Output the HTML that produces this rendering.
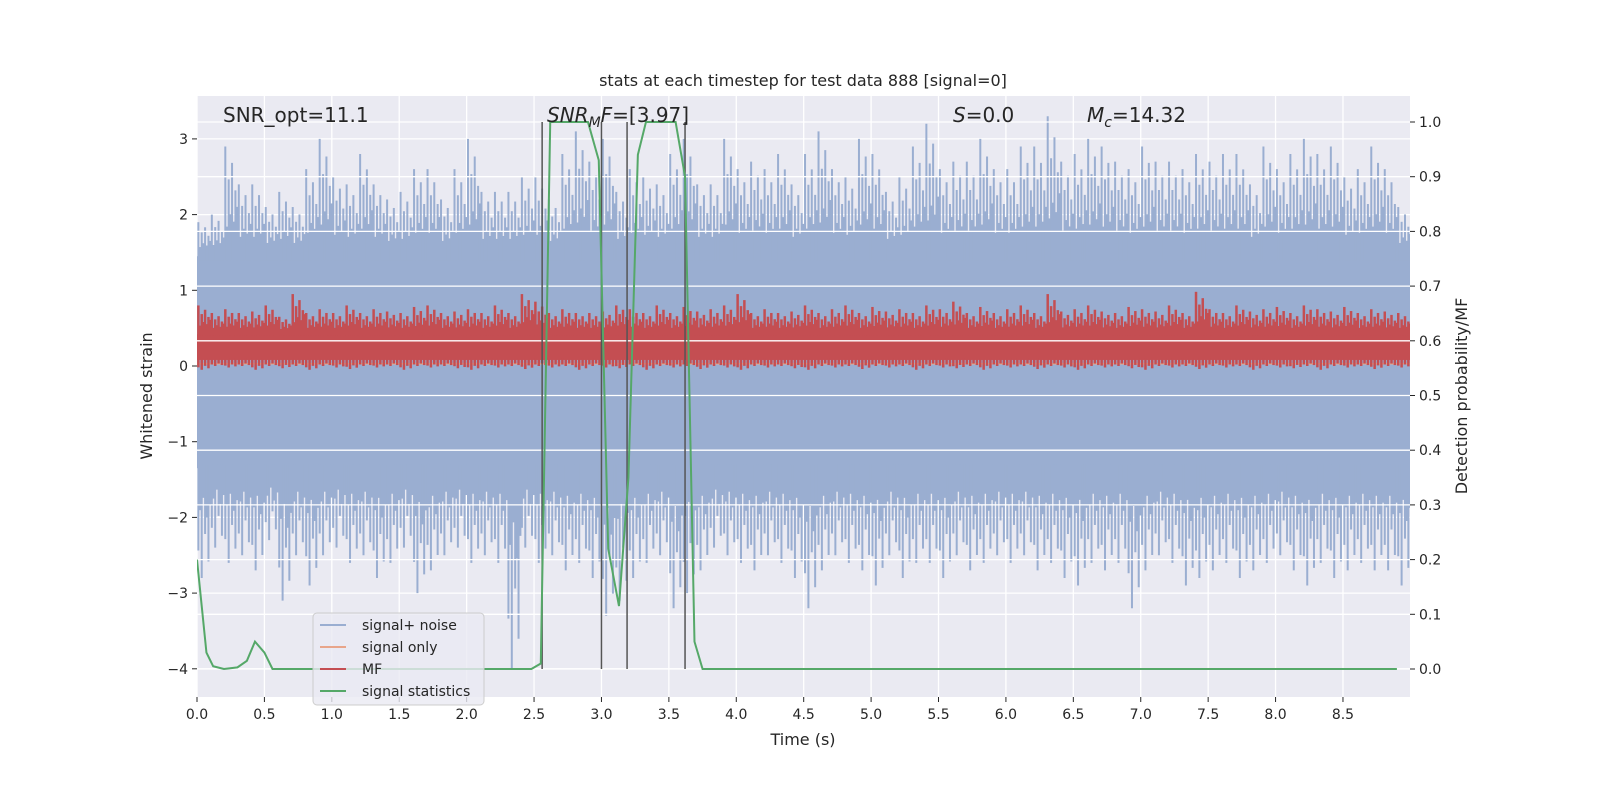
<!DOCTYPE html>
<html><head><meta charset="utf-8"><style>
html,body{margin:0;padding:0;background:#fff;overflow:hidden;width:100%;height:100%}
svg{display:block;position:fixed;left:0;top:0;width:100vw;height:100vh}
svg text{font-family:"DejaVu Sans","Liberation Sans",sans-serif;fill:#262626}
</style></head><body>
<svg id="c" viewBox="0 0 1600 800" preserveAspectRatio="none" xmlns="http://www.w3.org/2000/svg"></svg>
<script>
const xTicks=[0,0.5,1,1.5,2,2.5,3,3.5,4,4.5,5,5.5,6,6.5,7,7.5,8,8.5];
const yTicks=[-4,-3,-2,-1,0,1,2,3];
const y2Ticks=[0,0.1,0.2,0.3,0.4,0.5,0.6,0.7,0.8,0.9,1.0];
const noiseUpper=[1.9,2.0,2.9,2.4,2.4,2.1,2.3,2.1,2.6,3.0,2.5,2.4,2.8,2.4,2.2,2.3,2.6,2.6,2.2,2.6,3.0,2.3,2.3,2.3,2.5,2.5,2.2,2.8,3.1,2.7,3.0,2.3,2.6,2.5,2.4,2.8,3.0,2.4,2.4,3.0,2.6,2.7,2.6,2.8,2.4,2.8,3.1,2.6,2.5,3.0,2.8,2.3,2.5,2.9,3.2,2.6,2.7,2.7,3.0,2.6,2.6,2.9,2.9,3.3,2.7,2.8,3.0,2.9,2.7,2.6,2.9,2.7,2.7,2.6,2.8,2.7,2.8,2.8,2.4,2.9,2.6,2.8,3.0,2.8,2.9,2.5,2.6,2.9,2.6,2.1];
const noiseLower=[-2.8,-2.4,-2.6,-2.5,-2.7,-2.3,-3.1,-2.5,-2.9,-2.5,-2.4,-2.6,-2.5,-2.8,-2.6,-2.4,-3.0,-2.7,-2.5,-2.4,-2.6,-2.5,-2.6,-4.0,-2.4,-2.6,-2.5,-2.7,-2.6,-2.8,-3.3,-3.1,-2.8,-2.6,-2.5,-3.2,-3.0,-2.7,-2.4,-2.5,-2.6,-2.7,-2.5,-2.6,-2.8,-3.2,-2.7,-2.5,-2.6,-2.7,-2.9,-2.5,-2.8,-2.6,-2.6,-2.8,-2.5,-2.7,-2.6,-2.5,-2.6,-2.5,-2.7,-2.6,-2.8,-2.9,-2.6,-2.7,-2.6,-3.2,-2.7,-2.5,-2.6,-2.9,-2.8,-2.7,-2.6,-2.8,-2.7,-2.6,-2.5,-2.7,-2.9,-2.6,-2.8,-2.7,-2.6,-2.7,-2.7,-2.9];
const mfUpper=[0.8,0.7,0.75,0.7,0.72,0.8,0.65,0.95,0.7,0.75,0.7,0.8,0.7,0.75,0.72,0.7,0.78,0.8,0.7,0.72,0.75,0.7,0.8,0.7,0.95,0.85,0.7,0.75,0.7,0.7,0.72,0.8,0.75,0.7,0.8,0.7,0.78,0.72,0.75,0.8,0.95,0.7,0.75,0.7,0.72,0.8,0.7,0.75,0.8,0.7,0.78,0.72,0.75,0.7,0.8,0.75,0.85,0.7,0.78,0.7,0.75,0.8,0.7,0.95,0.72,0.75,0.8,0.72,0.7,0.78,0.75,0.72,0.8,0.7,0.98,0.75,0.7,0.8,0.72,0.75,0.78,0.7,0.8,0.75,0.72,0.78,0.7,0.75,0.72,0.7];
const mfLower=[-0.05,0.0,-0.02,0.0,-0.05,0.0,-0.03,0.0,-0.05,0.0,-0.02,-0.04,0.0,-0.02,0.0,-0.05,0.0,-0.02,0.0,-0.03,-0.05,0.0,-0.02,0.0,-0.04,0.0,-0.02,0.0,-0.05,0.0,-0.02,-0.03,0.0,-0.05,0.0,-0.02,0.0,-0.04,0.0,-0.02,-0.05,0.0,-0.02,0.0,-0.03,-0.05,0.0,-0.02,0.0,-0.04,0.0,-0.02,0.0,-0.05,0.0,-0.02,-0.03,0.0,-0.05,0.0,-0.02,0.0,-0.04,0.0,-0.02,-0.05,0.0,-0.02,0.0,-0.03,-0.05,0.0,-0.02,0.0,-0.04,0.0,-0.02,0.0,-0.05,0.0,-0.02,-0.03,0.0,-0.05,0.0,-0.02,0.0,-0.04,0.0,-0.02];
const statT=[0,0.07,0.12,0.2,0.3,0.37,0.43,0.5,0.56,1.0,2.0,2.48,2.55,2.62,2.9,2.98,3.05,3.13,3.2,3.27,3.33,3.55,3.62,3.69,3.75,5,7,8.9];
const statP=[0.2,0.03,0.005,0,0.003,0.015,0.05,0.03,0,0,0,0,0.01,1.0,1.0,0.93,0.22,0.115,0.35,0.94,1.0,1.0,0.9,0.05,0,0,0,0];
const markT=[2.56,3.0,3.19,3.62];

const NS="http://www.w3.org/2000/svg", svg=document.getElementById('c');
const L=197,R=1410,T=96,B=697;
const X=t=>L+t*134.82, Y=v=>366-v*75.7, Y2=p=>669-p*547;
function el(tag,a,parent){const e=document.createElementNS(NS,tag);for(const k in a)e.setAttribute(k,a[k]);(parent||svg).appendChild(e);return e;}
el('rect',{x:0,y:0,width:1600,height:800,fill:'#fff'});
const bg=el('rect',{x:L,y:T,width:R-L,height:B-T,fill:'#eaeaf2'});


const clip=el('clipPath',{id:'cp'});el('rect',{x:L,y:T,width:R-L,height:B-T},clip);
const g=el('g',{'clip-path':'url(#cp)'});
xTicks.forEach(t=>{el('line',{x1:X(t),x2:X(t),y1:T,y2:B,stroke:'#fff','stroke-width':1.3},g);});
yTicks.forEach(v=>{el('line',{x1:L,x2:R,y1:Y(v),y2:Y(v),stroke:'#fff','stroke-width':1.3},g);});
const nb=el('g',{},g);


const nc='#9aaed1';
el('rect',{x:L,y:Y(1.45),width:R-L,height:Y(-1.35)-Y(1.45),fill:nc},nb);
const fr=[0.1,0.35,0.6,0.85],fu=[1,0.7,0.85,0.6],fl=[0.75,1,0.6,0.85];
noiseUpper.forEach((u,i)=>{const lo=noiseLower[i];
  fr.forEach((f,j)=>{const x=X(i*0.1+f*0.1);
    el('line',{x1:x,x2:x,y1:Y(1.45+(u-1.45)*fu[j]),y2:Y(1.4),stroke:nc,'stroke-width':2},nb);
    el('line',{x1:x,x2:x,y1:Y(-1.3),y2:Y(-1.35+(lo+1.35)*fl[j]),stroke:nc,'stroke-width':2},nb);
    const x2=X(i*0.1+f*0.1+0.012);
    el('line',{x1:x2,x2:x2,y1:Y(1.45+(u-1.45)*0.45*fu[3-j]),y2:Y(1.4),stroke:nc,'stroke-width':2.5},nb);
    el('line',{x1:x2,x2:x2,y1:Y(-1.3),y2:Y(-1.35+(lo+1.35)*0.45*fl[3-j]),stroke:nc,'stroke-width':2.5},nb);
  });});
const so=el('line',{x1:L,x2:R,y1:Y(0.03),y2:Y(0.03),stroke:'#e8a58a','stroke-width':1.5},g);


const mg=el('g',{},g);


const mc='#c44e52';
el('rect',{x:L,y:Y(0.42),width:R-L,height:Y(0.08)-Y(0.42),fill:mc},mg);
mfUpper.forEach((u,i)=>{const lo=mfLower[i];
  fr.forEach((f,j)=>{const x=X(i*0.1+f*0.1);
    el('line',{x1:x,x2:x,y1:Y(0.42+(u-0.42)*fu[j]),y2:Y(0.4),stroke:mc,'stroke-width':2.5},mg);
    el('line',{x1:x,x2:x,y1:Y(0.1),y2:Y(0.08+(lo-0.08)*fl[j]),stroke:mc,'stroke-width':2.5},mg);
    const x2=X(i*0.1+f*0.1+0.012);
    el('line',{x1:x2,x2:x2,y1:Y(0.42+(u-0.42)*0.5*fu[3-j]),y2:Y(0.4),stroke:mc,'stroke-width':2},mg);
  });});
y2Ticks.forEach(p=>{el('line',{x1:L,x2:R,y1:Y2(p),y2:Y2(p),stroke:'#fff','stroke-width':1.3},g);});
markT.forEach(t=>{const m=el('line',{x1:X(t),x2:X(t),y1:Y2(1),y2:Y2(0),stroke:'#555','stroke-width':1.5},g);
  
  });
const sp=el('polyline',{points:statT.map((t,i)=>X(t)+','+Y2(statP[i])).join(' '),fill:'none',stroke:'#55a868','stroke-width':2},g);


function txt(x,y,s,a,parent){const e=el('text',Object.assign({x:x,y:y},a),parent);e.textContent=s;return e;}
xTicks.forEach(t=>{el('line',{x1:X(t),x2:X(t),y1:B,y2:B+5,stroke:'#262626'});
  const e=txt(X(t),B+22,t.toFixed(1),{'font-size':14,'text-anchor':'middle'});
  
  });
yTicks.forEach(v=>{el('line',{x1:L-5,x2:L,y1:Y(v),y2:Y(v),stroke:'#262626'});
  const e=txt(L-9,Y(v)+5,v<0?'\u2212'+(-v):String(v),{'font-size':14,'text-anchor':'end'});
  
  });
y2Ticks.forEach(p=>{el('line',{x1:R,x2:R+5,y1:Y2(p),y2:Y2(p),stroke:'#262626'});
  const e=txt(R+9,Y2(p)+5,p.toFixed(1),{'font-size':14});
  
  });
const xt=txt(803,745,'Time (s)',{'font-size':16,'text-anchor':'middle'});


const yt=txt(0,0,'Whitened strain',{'font-size':16,'text-anchor':'middle',transform:'translate(152,396) rotate(-90)'});


const y2t=txt(0,0,'Detection probability/MF',{'font-size':16,'text-anchor':'middle',transform:'translate(1467,396) rotate(-90)'});


const tt=txt(803,86,'stats at each timestep for test data 888 [signal=0]',{'font-size':16,'text-anchor':'middle'});


const a1=txt(223,122,'SNR_opt=11.1',{'font-size':20});


const a2=el('text',{x:547,y:122,'font-size':20});


a2.innerHTML='<tspan font-style="italic">SNR</tspan><tspan font-style="italic" font-size="14" dy="5">M</tspan><tspan font-style="italic" dy="-5">F</tspan>=[3.97]';
const a3=el('text',{x:953,y:122,'font-size':20});


a3.innerHTML='<tspan font-style="italic">S</tspan>=0.0';
const a4=el('text',{x:1087,y:122,'font-size':20});


a4.innerHTML='<tspan font-style="italic">M</tspan><tspan font-style="italic" font-size="14" dy="5">c</tspan><tspan dy="-5">=14.32</tspan>';
const lg=el('g',{});


el('rect',{x:313,y:613,width:171,height:92,rx:4,fill:'#eaeaf2','fill-opacity':0.8,stroke:'#cccccc'},lg);
[['signal+ noise','#9aaed1'],['signal only','#e8a58a'],['MF','#c44e52'],['signal statistics','#55a868']].forEach((d,i)=>{
  const y=625+i*22;
  const e=el('g',{},lg);
  
  
  el('line',{x1:320,x2:346,y1:y,y2:y,stroke:d[1],'stroke-width':2},e);
  txt(362,y+5,d[0],{'font-size':14},e);
});
</script>
</body></html>
